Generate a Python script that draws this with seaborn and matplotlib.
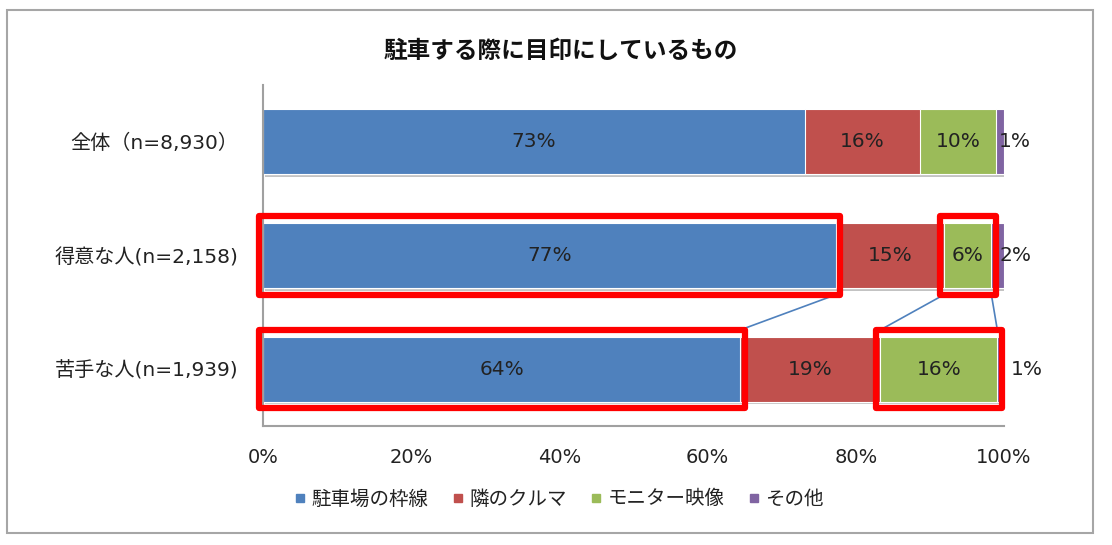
import matplotlib
matplotlib.use("Agg")
import matplotlib.pyplot as plt
import matplotlib.patheffects as pe
from matplotlib.patches import Rectangle
from matplotlib.lines import Line2D
import seaborn as sns
import pandas as pd
import numpy as np

# ---- data ----
categories = ["全体（n=8,930）", "得意な人(n=2,158)", "苦手な人(n=1,939)"]
series_names = ["駐車場の枠線", "隣のクルマ", "モニター映像", "その他"]
waku = [73.1, 77.3, 64.4]      # 駐車場の枠線
tonari = [15.6, 14.6, 18.9]    # 隣のクルマ
monitor = [10.2, 6.4, 15.8]    # モニター映像
sonota = [1.1, 1.7, 0.9]       # その他
xticks = [0, 20, 40, 60, 80, 100]
xtick_labels = ["0%", "20%", "40%", "60%", "80%", "100%"]
title = "駐車する際に目印にしているもの"

colors = ["#4F81BD", "#C0504D", "#9BBB59", "#8064A2"]

sns.set_theme(style="white")
plt.rcParams["font.family"] = ["DejaVu Sans", "Noto Sans CJK JP"]
CJK = ["Noto Sans CJK JP", "DejaVu Sans"]

W, H = 1112, 545
fig = plt.figure(figsize=(W / 100, H / 100), dpi=100)
ax = fig.add_axes([263 / W, 1 - 426 / H, (1004 - 263) / W, (426 - 85) / H])

# outer frame
fig.patches.append(Rectangle((7 / W, 1 - 533 / H), (1093 - 7) / W, (533 - 10) / H,
                             transform=fig.transFigure, fill=False,
                             edgecolor="#A6A6A6", linewidth=1.5, zorder=0))

vals = np.array([waku, tonari, monitor, sonota])
cum = vals.cumsum(axis=0)
df = pd.DataFrame({"cat": categories})
for i, name in enumerate(series_names):
    df[name] = cum[i]

bar_h = 0.57
# draw from the total back to the first series
for i in reversed(range(len(series_names))):
    n_before = len(ax.patches)
    sns.barplot(data=df, x=series_names[i], y="cat", orient="h", color=colors[i],
                width=bar_h, edgecolor="white", linewidth=0.8, saturation=1, ax=ax)
    if i == len(series_names) - 1:
        for p in ax.patches[n_before:]:
            p.set_path_effects([pe.SimplePatchShadow(offset=(1.5, -2), shadow_rgbFace="#888888", alpha=0.5),
                                pe.Normal()])

ax.set_xlim(0, 100)
ax.set_ylim(2.5, -0.5)
ax.set_xlabel("")
ax.set_ylabel("")
ax.set_xticks(xticks)
ax.set_xticklabels(xtick_labels, fontsize=14, color="#222222")
ax.tick_params(axis="x", length=0, pad=16)
ax.tick_params(axis="y", length=0, pad=18, labelsize=14.5, labelcolor="#222222")
for s in ["top", "right"]:
    ax.spines[s].set_visible(False)
for s in ["left", "bottom"]:
    ax.spines[s].set_color("#A0A0A0")
    ax.spines[s].set_linewidth(1.5)

# value labels
starts = cum - vals
for r in range(len(categories)):
    for i in range(3):
        ax.text(starts[i, r] + vals[i, r] / 2, r, f"{round(vals[i, r])}%",
                ha="center", va="center", fontsize=14.5, color="#222222")
out_offsets = [1.4, 1.5, 3.1]
for r in range(len(categories)):
    ax.text(100 + out_offsets[r], r, f"{round(sonota[r])}%", ha="center", va="center",
            fontsize=14.5, color="#222222", clip_on=False)

# red highlight boxes
pad_x, pad_y = 0.6, 0.06
def box(x0, x1, r):
    ax.add_patch(Rectangle((x0 - pad_x, r - bar_h / 2 - pad_y), x1 - x0 + 2 * pad_x, bar_h + 2 * pad_y,
                           fill=False, edgecolor="#FF0000", linewidth=4.5, zorder=10, clip_on=False,
                           joinstyle="round"))
for r in (1, 2):
    box(starts[0, r], cum[0, r], r)
    box(starts[2, r], cum[2, r], r)

# connector lines between row 2 and row 3
y_a = 1 + bar_h / 2 + pad_y
y_b = 2 - bar_h / 2 - pad_y
for xa, xb in [(cum[0, 1], cum[0, 2]), (starts[2, 1], starts[2, 2]), (cum[2, 1], cum[2, 2])]:
    ax.plot([xa, xb], [y_a, y_b], color="#4F81BD", linewidth=1.2, zorder=9, clip_on=False)

# title
fig.text(561 / W, 1 - 51 / H, title, ha="center", va="center",
         fontsize=17, fontweight="bold", color="#111111", family=CJK)

# legend
handles = [Line2D([0], [0], marker="s", linestyle="", markersize=6, markerfacecolor=c,
                  markeredgecolor=c) for c in colors]
fig.legend(handles, series_names, loc="center", bbox_to_anchor=(559 / W, 1 - 499 / H),
           ncol=4, frameon=False, handlelength=0.6, handletextpad=0.3,
           columnspacing=1.2, labelcolor="#222222",
           prop={"family": CJK, "size": 14})

fig.savefig("out.png", dpi=100)
